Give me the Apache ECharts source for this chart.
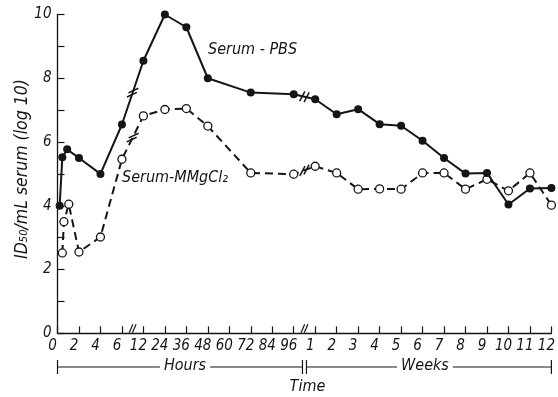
<!DOCTYPE html>
<html>
<head>
<meta charset="utf-8">
<script src="https://cdn.jsdelivr.net/npm/echarts@6/dist/echarts.min.js"></script>
<style>
  html, body { margin: 0; padding: 0; background: #fff; }
  #chart { width: 558px; height: 397px; }
</style>
</head>
<body>
<div id="chart"></div>
<script>
// Broken time axis: early hours, later hours, then weeks (one tick slot each)
const hourTicksEarly = ['0', '2', '4', '6'];
const hourTicksLate = ['12', '24', '36', '48', '60', '72', '84', '96'];
const weekTicks = ['1', '2', '3', '4', '5', '6', '7', '8', '9', '10', '11', '12'];
const yMax = 10;

// Serum-PBS titres (log10 ID50/mL)
const pbsHours = [0.2, 0.45, 0.9, 2, 4, 6, 12, 24, 36, 48, 72, 96];
const pbsHourValues = [4.0, 5.52, 5.77, 5.5, 5.0, 6.55, 8.55, 10.0, 9.6, 8.0, 7.55, 7.5];
const pbsWeeks = [1, 2, 3, 4, 5, 6, 7, 8, 9, 10, 11, 12];
const pbsWeekValues = [7.34, 6.87, 7.03, 6.56, 6.51, 6.04, 5.5, 5.01, 5.03, 4.04, 4.54, 4.56];

// Serum-MMgCl2 titres (log10 ID50/mL)
const mmgHours = [0.45, 0.6, 1.05, 2, 4, 6, 12, 24, 36, 48, 72, 96];
const mmgHourValues = [2.52, 3.5, 4.05, 2.55, 3.02, 5.46, 6.82, 7.02, 7.05, 6.5, 5.03, 4.99];
const mmgWeeks = [1, 2, 3, 4, 5, 6, 7, 8, 9, 10, 11, 12];
const mmgWeekValues = [5.24, 5.03, 4.52, 4.53, 4.52, 5.03, 5.03, 4.52, 4.83, 4.47, 5.03, 4.02];

const tickLabels = hourTicksEarly.concat(hourTicksLate, weekTicks);

// Map real time onto the piecewise axis slots
function hourPos(h) { return h <= 6 ? h / 2 : hourTicksEarly.length + (h - 12) / 12; }
function weekPos(w) { return hourTicksEarly.length + hourTicksLate.length - 1 + w; }

function buildSeries(hours, hourVals, weeks, weekVals) {
  const out = hours.map((h, i) => [hourPos(h), hourVals[i]]);
  return out.concat(weeks.map((w, i) => [weekPos(w), weekVals[i]]));
}
const pbsData = buildSeries(pbsHours, pbsHourValues, pbsWeeks, pbsWeekValues);
const mmgData = buildSeries(mmgHours, mmgHourValues, mmgWeeks, mmgWeekValues);

const INK = '#151515';
const FONT = "'Liberation Sans Narrow', 'DejaVu Sans Condensed', 'DejaVu Sans', sans-serif";
const xMax = tickLabels.length - 1;

const chart = echarts.init(document.getElementById('chart'), null, { renderer: 'canvas' });

chart.setOption({
  animation: false,
  backgroundColor: '#fff',
  grid: { left: 57.5, right: 3, top: 14.5, bottom: 63.7 },
  xAxis: {
    type: 'value', min: 0, max: xMax, interval: 1,
    axisLine: { lineStyle: { color: INK, width: 1.3 } },
    axisTick: { inside: true, length: 7, lineStyle: { color: INK, width: 1.2 } },
    splitLine: { show: false },
    axisLabel: {
      formatter: v => tickLabels[Math.round(v)] || '',
      color: INK, fontSize: 15, fontStyle: 'italic', fontFamily: FONT,
      margin: 5, padding: [0, 10, 0, 0],
      showMinLabel: true, showMaxLabel: true
    }
  },
  yAxis: {
    type: 'value', min: 0, max: yMax, interval: 1,
    axisLine: { show: true, lineStyle: { color: INK, width: 1.3 } },
    axisTick: { show: true, inside: true, length: 7, lineStyle: { color: INK, width: 1.2 } },
    splitLine: { show: false },
    axisLabel: {
      formatter: v => (v % 2 === 0 ? String(v) : ''),
      color: INK, fontSize: 15, fontStyle: 'italic', fontFamily: FONT, margin: 6
    }
  },
  series: [
    {
      name: 'Serum-PBS', type: 'line', data: pbsData, clip: false,
      symbol: 'circle', symbolSize: 8,
      itemStyle: { color: INK },
      lineStyle: { color: INK, width: 2 },
      z: 3
    },
    {
      name: 'Serum-MMgCl2', type: 'line', data: mmgData, clip: false,
      symbol: 'circle', symbolSize: 8,
      itemStyle: { color: '#fff', borderColor: INK, borderWidth: 1.3 },
      lineStyle: { color: INK, width: 2, type: [8, 5] },
      z: 2
    }
  ]
});

// Decorations: break marks, time brackets and text annotations
function px(p) { return chart.convertToPixel({ gridIndex: 0 }, p); }

function lineBreak(a, b) {
  const p = px(a), q = px(b);
  const mx = (p[0] + q[0]) / 2, my = (p[1] + q[1]) / 2;
  const dx = q[0] - p[0], dy = q[1] - p[1];
  const len = Math.hypot(dx, dy);
  const ux = dx / len, uy = dy / len;
  const rise = Math.atan2(-dy, dx) * 180 / Math.PI;
  const ang = (rise > 40 ? 25 : 62) * Math.PI / 180;
  const vx = Math.cos(ang), vy = -Math.sin(ang);
  const half = 5.5, gap = 2.2;
  return [-1, 1].map(s => {
    const cx = mx + ux * gap * s, cy = my + uy * gap * s;
    return {
      type: 'line', z: 20,
      shape: { x1: cx - vx * half, y1: cy - vy * half, x2: cx + vx * half, y2: cy + vy * half },
      style: { stroke: INK, lineWidth: 1.5 }
    };
  });
}

function axisBreak(pos) {
  const p = px([pos, 0]);
  return [-1.6, 1.6].map(o => ({
    type: 'line', z: 20,
    shape: { x1: p[0] + o - 1.8, y1: p[1] - 0.5, x2: p[0] + o + 1.8, y2: p[1] - 9 },
    style: { stroke: INK, lineWidth: 1.2 }
  }));
}

const early = hourTicksEarly.length - 1;     // last early-hours slot
const lastHour = early + hourTicksLate.length; // last hours slot
const gaps = [early + 0.5, lastHour + 0.5];

const graphics = [];
// breaks on the curves across the axis discontinuities
const pbsA = pbsHours.indexOf(6), pbsB = pbsHours.indexOf(12), pbsC = pbsHours.indexOf(96);
const mmgA = mmgHours.indexOf(6), mmgB = mmgHours.indexOf(12), mmgC = mmgHours.indexOf(96);
graphics.push(...lineBreak(pbsData[pbsA], pbsData[pbsB]));
graphics.push(...lineBreak(pbsData[pbsC], pbsData[pbsC + 1]));
graphics.push(...lineBreak(mmgData[mmgA], mmgData[mmgB]));
graphics.push(...lineBreak(mmgData[mmgC], mmgData[mmgC + 1]));
gaps.forEach(g => graphics.push(...axisBreak(g)));

// Hours / Weeks bracket under the tick labels
const x0 = px([0, 0])[0], x1 = px([xMax, 0])[0], xm = px([gaps[1], 0])[0];
const by = 367;
const seg = (a, b, c, d, w) => ({ type: 'line', z: 5, shape: { x1: a, y1: b, x2: c, y2: d }, style: { stroke: INK, lineWidth: w || 1.2 } });
graphics.push(seg(x0, by, xm - 2, by));
graphics.push(seg(xm + 2, by, x1, by));
graphics.push(seg(x0, by - 7, x0, by + 7));
graphics.push(seg(x1, by - 7, x1, by + 7));
graphics.push(seg(xm - 2, by - 7, xm - 2, by + 7));
graphics.push(seg(xm + 2, by - 7, xm + 2, by + 7));

const textStyle = (t, extra) => Object.assign({
  text: t, fill: INK, font: 'italic 16px ' + FONT,
  textAlign: 'center', textVerticalAlign: 'middle'
}, extra || {});

graphics.push({ type: 'text', z: 10, x: (x0 + xm) / 2 + 4, y: by - 1,
  style: textStyle('Hours', { backgroundColor: '#fff', padding: [0, 4] }) });
graphics.push({ type: 'text', z: 10, x: (xm + x1) / 2 - 3, y: by - 1,
  style: textStyle('Weeks', { backgroundColor: '#fff', padding: [0, 4] }) });
graphics.push({ type: 'text', z: 10, x: xm + 3, y: 387, style: textStyle('Time') });

// y-axis title
graphics.push({ type: 'text', z: 10, x: 22, y: 169, rotation: Math.PI / 2,
  style: textStyle('ID\u2085\u2080/mL serum (log 10)', { font: 'italic 17.5px ' + FONT }) });

// series annotations
graphics.push({ type: 'text', z: 10, x: 208, y: 50,
  style: textStyle('Serum - PBS', { textAlign: 'left' }) });
graphics.push({ type: 'text', z: 10, x: 122, y: 178,
  style: textStyle('Serum-MMgCl\u2082', { textAlign: 'left' }) });

chart.setOption({ graphic: graphics });
</script>
</body>
</html>
